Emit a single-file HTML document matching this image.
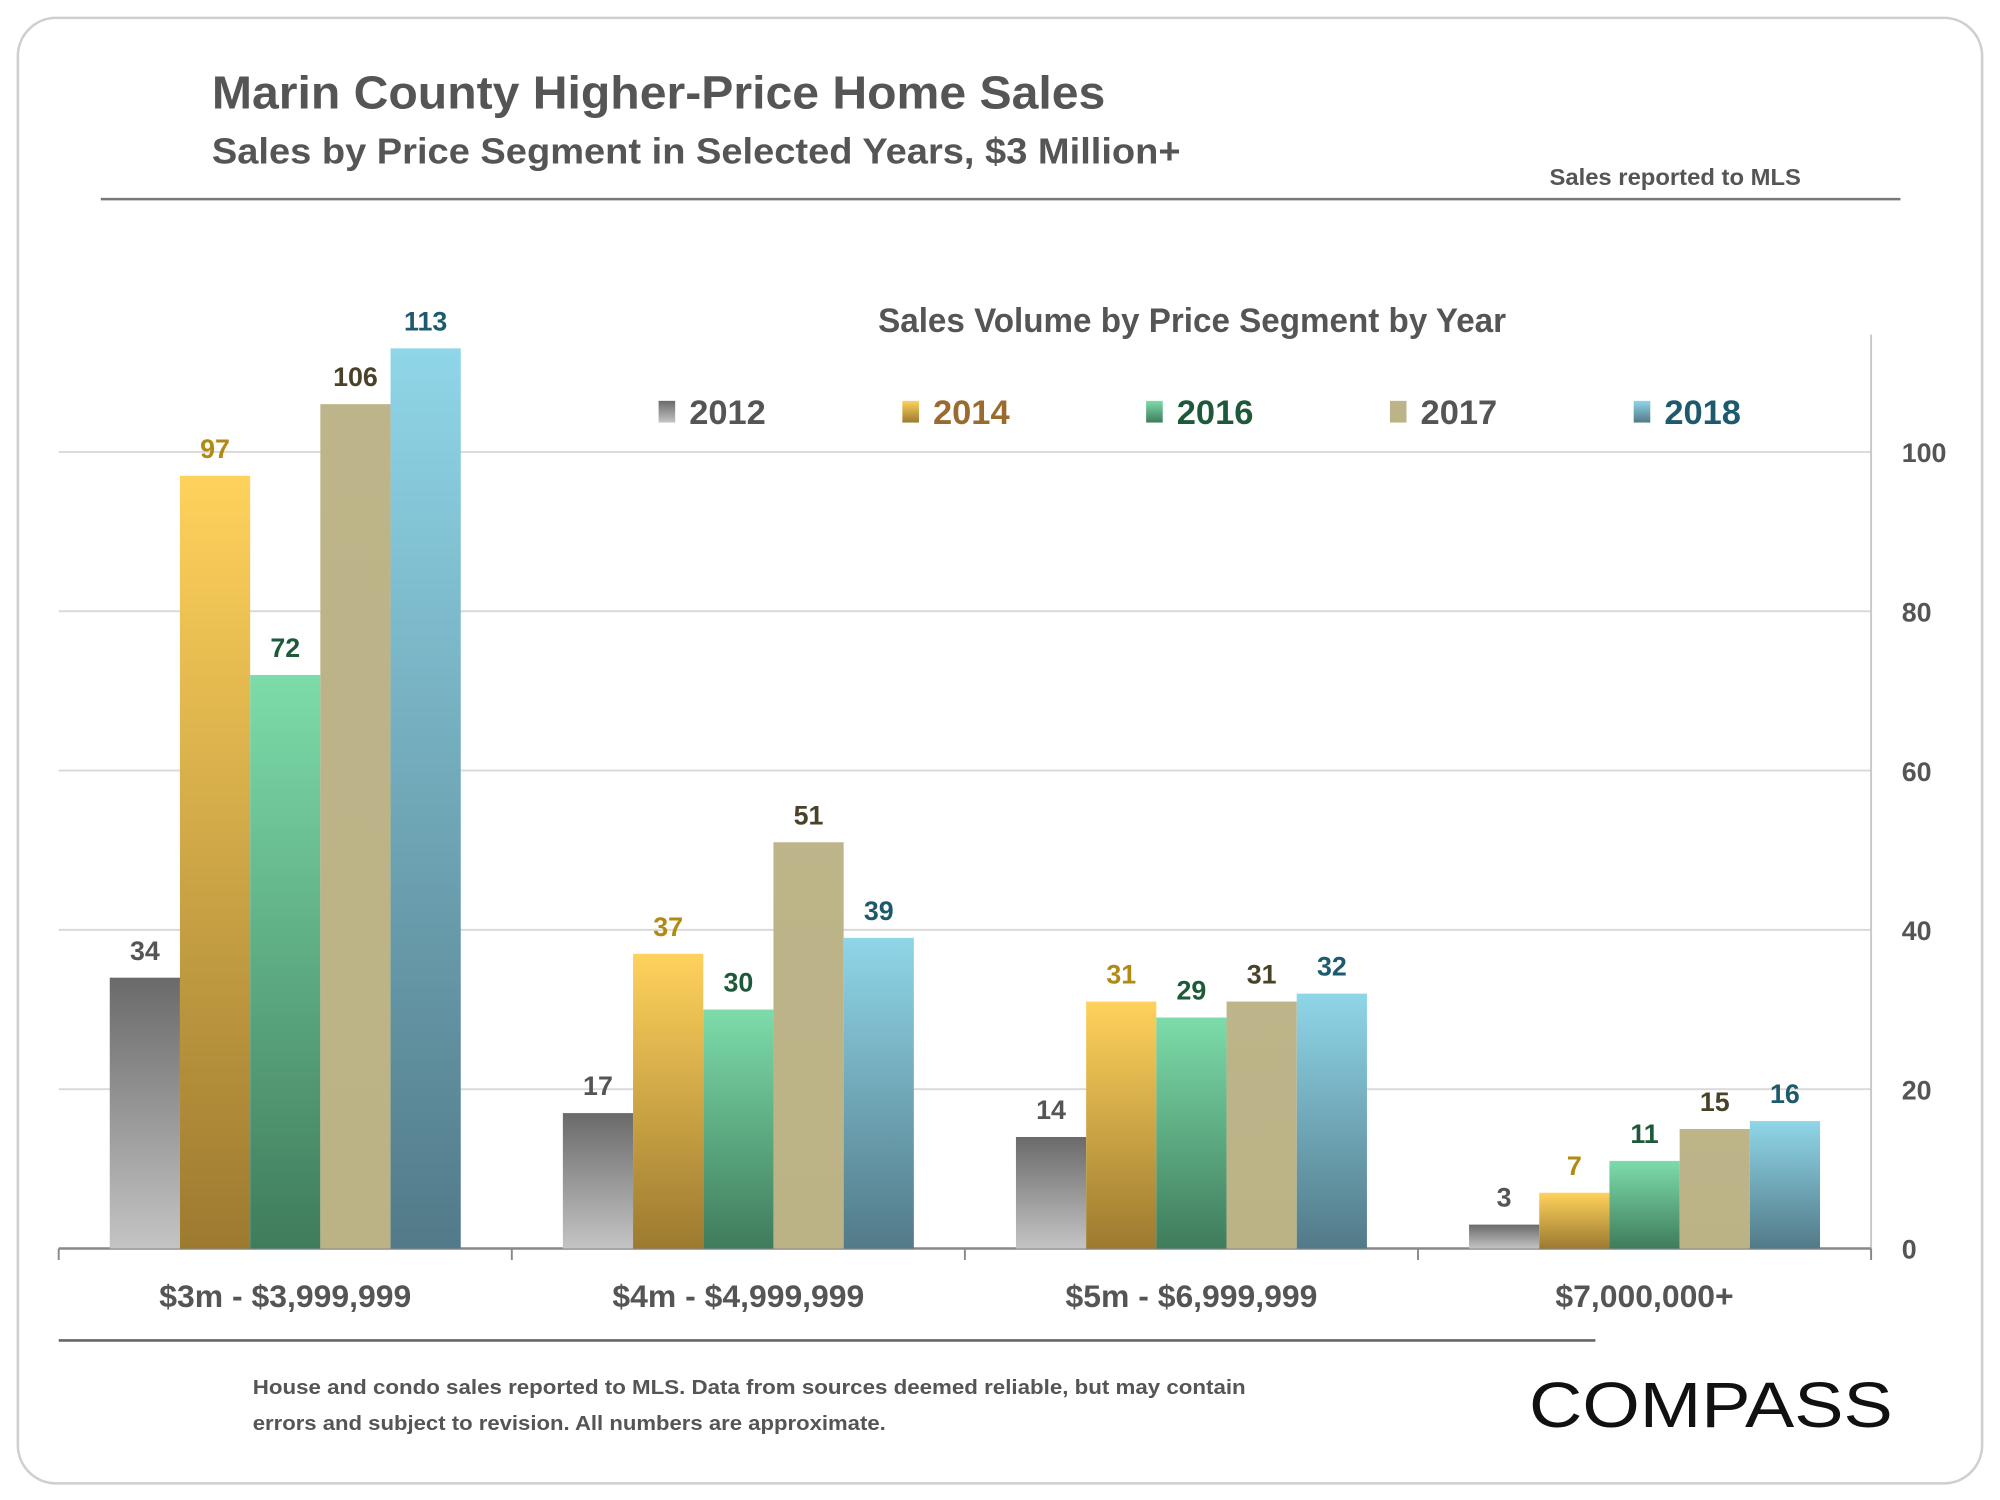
<!DOCTYPE html>
<html><head><meta charset="utf-8"><style>
html,body{margin:0;padding:0;background:#fff;}
svg{display:block;font-family:"Liberation Sans",sans-serif;font-weight:bold;}
</style></head><body>
<svg id="chart" width="2000" height="1500" viewBox="0 0 1567 1175" preserveAspectRatio="none" xmlns="http://www.w3.org/2000/svg">
<defs>
<linearGradient id="g0" x1="0" y1="0" x2="0" y2="1"><stop offset="0" stop-color="#6a6a6a"/><stop offset="1" stop-color="#c4c4c4"/></linearGradient>
<linearGradient id="g1" x1="0" y1="0" x2="0" y2="1"><stop offset="0" stop-color="#ffd25c"/><stop offset="1" stop-color="#9c7a30"/></linearGradient>
<linearGradient id="g2" x1="0" y1="0" x2="0" y2="1"><stop offset="0" stop-color="#7ddcaa"/><stop offset="1" stop-color="#3f7c5c"/></linearGradient>
<linearGradient id="g3" x1="0" y1="0" x2="0" y2="1"><stop offset="0" stop-color="#bdb589"/><stop offset="1" stop-color="#bbb386"/></linearGradient>
<linearGradient id="g4" x1="0" y1="0" x2="0" y2="1"><stop offset="0" stop-color="#8fd6e8"/><stop offset="1" stop-color="#527a88"/></linearGradient>
</defs>
<rect x="14" y="14" width="1539" height="1148" rx="30" fill="#fff" stroke="#cfcfcf" stroke-width="2"/>
<text x="166" y="85" font-size="36" fill="#555" textLength="700" lengthAdjust="spacingAndGlyphs">Marin County Higher-Price Home Sales</text>
<text x="166" y="128" font-size="28" fill="#555" textLength="759" lengthAdjust="spacingAndGlyphs">Sales by Price Segment in Selected Years, $3 Million+</text>
<text x="1214" y="145" font-size="18" fill="#555" textLength="197" lengthAdjust="spacingAndGlyphs">Sales reported to MLS</text>
<line x1="79" y1="156" x2="1489" y2="156" stroke="#777" stroke-width="2"/>
<text x="688" y="260" font-size="27" fill="#555" textLength="492" lengthAdjust="spacingAndGlyphs">Sales Volume by Price Segment by Year</text>
<g id="grid"></g><g id="bars"></g><g id="labels"></g><g id="legend"></g>
<line x1="46" y1="1050" x2="1250" y2="1050" stroke="#666" stroke-width="2"/>
<text x="198" y="1092" font-size="16" fill="#555" textLength="778" lengthAdjust="spacingAndGlyphs">House and condo sales reported to MLS. Data from sources deemed reliable, but may contain</text>
<text x="198" y="1120" font-size="16" fill="#555" textLength="496" lengthAdjust="spacingAndGlyphs">errors and subject to revision.  All numbers are approximate.</text>
<text x="1198" y="1118" font-size="50" font-weight="normal" fill="#111" textLength="285" lengthAdjust="spacingAndGlyphs">COMPASS</text>
</svg>
<script>
const categories = ["$3m - $3,999,999","$4m - $4,999,999","$5m - $6,999,999","$7,000,000+"];
const years = ["2012","2014","2016","2017","2018"];
const s2012 = [34,17,14,3];
const s2014 = [97,37,31,7];
const s2016 = [72,30,29,11];
const s2017 = [106,51,31,15];
const s2018 = [113,39,32,16];
const yTicks = [0,20,40,60,80,100];

const series = [s2012,s2014,s2016,s2017,s2018];
const labelColors = ["#555","#b08a12","#1e5a3a","#4a4228","#1e5a6e"];
const legendColors = ["#555","#9a6a2e","#1e5a3a","#555","#1e5a6e"];
const NS = "http://www.w3.org/2000/svg";
const x0 = 46, x1 = 1466, y0 = 978, unit = 6.24;
const groupW = (x1 - x0) / categories.length;
const barW = 55, barOff = 40;
const yScale = v => y0 - v * unit;
const xBar = (c, s) => x0 + c * groupW + barOff + s * barW;
function mk(tag, attrs, parent, text){
  const e = document.createElementNS(NS, tag);
  for (const k in attrs) e.setAttribute(k, attrs[k]);
  if (text !== undefined) e.textContent = text;
  parent.appendChild(e); return e;
}
const grid = document.getElementById('grid');
yTicks.forEach(t => {
  if (t > 0) {
    const l = mk('line', {x1:x0, x2:x1, y1:yScale(t), y2:yScale(t), stroke:'#d9d9d9', 'stroke-width':1.5}, grid);
    
    
  }
  const tx = mk('text', {x:1490, y:yScale(t)+8, 'font-size':21, fill:'#555'}, grid, t);
  
  
});
const ax = mk('line', {x1:x1, x2:x1, y1:262, y2:986, stroke:'#c8c8c8', 'stroke-width':1.5}, grid);


const bars = document.getElementById('bars');
const labels = document.getElementById('labels');
categories.forEach((c, ci) => {
  series.forEach((s, si) => {
    const v = s[ci];
    const r = mk('rect', {x:xBar(ci, si), y:yScale(v), width:barW, height:v*unit, fill:'url(#g'+si+')'}, bars);
    
    
    const t = mk('text', {x:xBar(ci, si)+barW/2, y:yScale(v)-14, 'font-size':21, fill:labelColors[si], 'text-anchor':'middle'}, labels, v);
    
    
  });
  const cl = mk('text', {x:x0 + ci*groupW + groupW/2, y:1024, 'font-size':25, fill:'#555', 'text-anchor':'middle'}, labels, c);
  
  
});
const base = mk('line', {x1:x0, x2:x1, y1:y0, y2:y0, stroke:'#888', 'stroke-width':2}, grid);


for (let i = 0; i <= categories.length; i++) {
  const tk = mk('line', {x1:x0+i*groupW, x2:x0+i*groupW, y1:y0, y2:987, stroke:'#888', 'stroke-width':1.5}, grid);
  
  
}
const legend = document.getElementById('legend');
years.forEach((y, i) => {
  const lx = 516 + i * 191;
  const sw = mk('rect', {x:lx, y:314, width:13, height:17, fill:'url(#g'+i+')'}, legend);
  
  
  const lt = mk('text', {x:lx+24, y:332, 'font-size':27, fill:legendColors[i]}, legend, y);
  
  
});
</script>
</body></html>
